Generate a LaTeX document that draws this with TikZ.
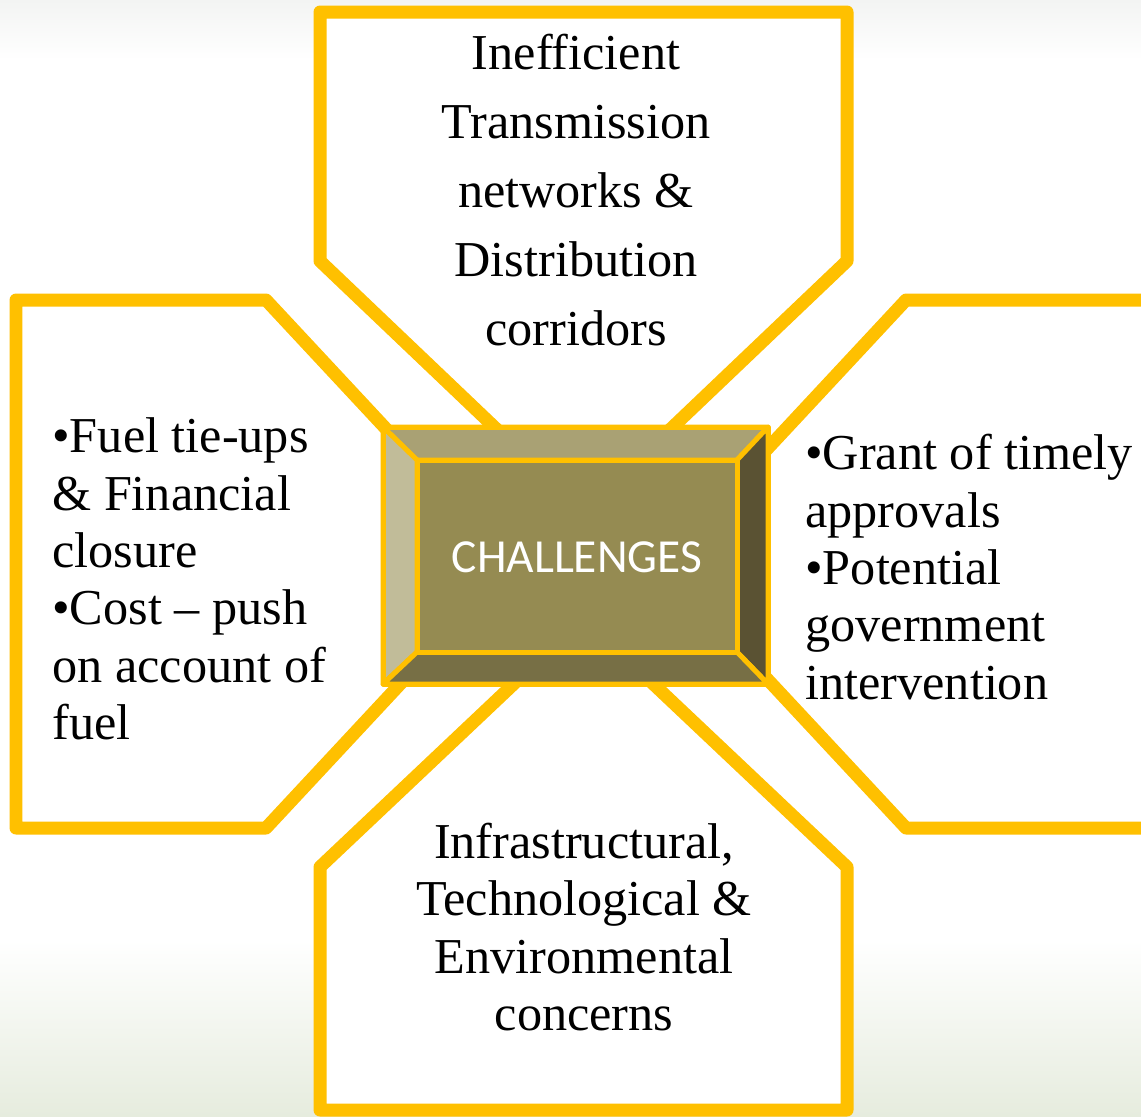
\documentclass[tikz,border=0pt]{standalone}
\usepackage{fontspec}
\setmainfont{Liberation Serif}
\newfontfamily\chfont{Carlito}
\usepackage{xcolor}
\usepackage{tikz}
\definecolor{chyellow} {RGB}{255,192,  0}
\definecolor{bevtop}   {RGB}{169,161,116}
\definecolor{bevleft}  {RGB}{193,188,153}
\definecolor{bevright} {RGB}{ 90, 82, 51}
\definecolor{bevbottom}{RGB}{119,111, 69}
\definecolor{bevface}  {RGB}{149,139, 82}
\definecolor{bgfade}   {RGB}{230,236,222}
\definecolor{bgtop}    {RGB}{243,244,243}
\tikzset{
  arm/.style={draw=chyellow,fill=white,line width=0.26cm,line join=round},
  bev/.style={draw=chyellow,line width=0.1cm,line join=round},
  txt/.style={inner sep=0pt,text=black,
              font=\fontsize{28.6pt}{32.7pt}\selectfont},
  txtc/.style={txt,align=center},
  txtl/.style={txt,align=left,anchor=west},
  chal/.style={inner sep=0pt,text=white,
               font=\chfont\fontsize{27pt}{32pt}\selectfont},
}

\begin{document}
\begin{tikzpicture}[x=0.02cm,y=-0.02cm]
  % Canvas
  \useasboundingbox (0,0) rectangle (1141,1116);
  \clip (0,0) rectangle (1141,1116);
  \fill[white] (0,0) rectangle (1141,1116);
  \shade[top color=bgtop,bottom color=white] (0,0) rectangle (1141,60);
  \shade[top color=white,bottom color=bgfade] (0,940) rectangle (1141,1116);

  % Arms
  \draw[arm] (320,12) -- (847,12) -- (847,261) -- (583.5,512) -- (320,261) -- cycle;
  \draw[arm] (16,300) -- (266,300) -- (512,564) -- (266,828) -- (16,828) -- cycle;
  \draw[arm] (1170,300) -- (906,300) -- (660,564) -- (906,828) -- (1170,828) -- cycle;
  \draw[arm] (320,1110) -- (320,867) -- (583.5,618) -- (847,867) -- (847,1110) -- cycle;

  % Arm texts
  \node[txtc,font=\fontsize{28.6pt}{39.3pt}\selectfont](ttop) at (576,190)
    {Inefficient\\Transmission\\networks \&\\Distribution\\corridors};
  \node[txtl](tleft) at (52,579)
    {•Fuel tie-ups\\\& Financial\\closure\\•Cost – push\\on account of\\fuel};
  \node[txtl](tright) at (805,567)
    {•Grant of timely\\approvals\\•Potential\\government\\intervention};
  \node[txtc](tbottom) at (584,927)
    {Infrastructural,\\Technological \&\\Environmental\\concerns};

  % Bevel box
  \coordinate (o1) at (383,427);
  \coordinate (o2) at (768,427);
  \coordinate (o3) at (768,684);
  \coordinate (o4) at (383,684);
  \coordinate (i1) at (417,460);
  \coordinate (i2) at (737,460);
  \coordinate (i3) at (737,652);
  \coordinate (i4) at (417,652);
  \filldraw[bev,fill=bevtop]   (o1) -- (o2) -- (i2) -- (i1) -- cycle;
  \filldraw[bev,fill=bevleft]  (o1) -- (i1) -- (i4) -- (o4) -- cycle;
  \filldraw[bev,fill=bevright] (o2) -- (o3) -- (i3) -- (i2) -- cycle;
  \filldraw[bev,fill=bevbottom](o4) -- (i4) -- (i3) -- (o3) -- cycle;
  \filldraw[bev,fill=bevface]  (i1) rectangle (i3);
  \draw[bev] (o1) rectangle (o3);
  \node[chal](chal) at (577,557){CHALLENGES};
\end{tikzpicture}
\end{document}
